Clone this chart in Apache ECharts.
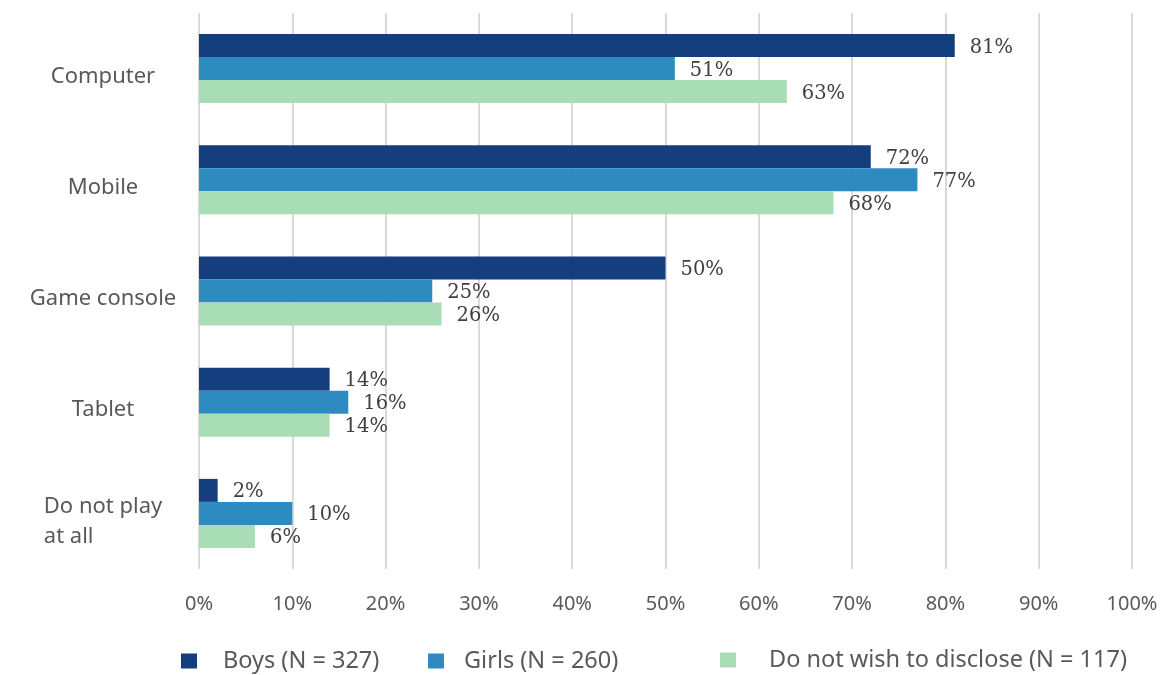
<!DOCTYPE html>
<html>
<head>
<meta charset="utf-8">
<script src="https://cdn.jsdelivr.net/npm/echarts@6/dist/echarts.min.js"></script>
<style>
html,body{margin:0;padding:0;background:#fff;}
#chart{width:1167px;height:675px;}
</style>
</head>
<body>
<div id="chart"></div>
<script>
const categories = ['Computer', 'Mobile', 'Game console', 'Tablet', 'Do not play at all'];
const seriesNames = ['Boys (N = 327)', 'Girls (N = 260)', 'Do not wish to disclose (N = 117)'];
const boys = [81, 72, 50, 14, 2];
const girls = [51, 77, 25, 16, 10];
const disclose = [63, 68, 26, 14, 6];
const xTicks = [0, 10, 20, 30, 40, 50, 60, 70, 80, 90, 100];

const colors = ['#153E7F', '#2E8BC0', '#A9DDB6'];
const seriesData = [boys, girls, disclose];

const chart = echarts.init(document.getElementById('chart'));

const labelStyle = {
  show: true,
  position: 'right',
  distance: 15,
  offset: [0, 2],
  fontFamily: 'DejaVu Serif',
  fontSize: 19.5,
  color: '#404040',
  formatter: p => p.value + '%'
};

const legendPos = [
  {left: 181, top: 649, pad: 21},
  {left: 428, top: 649, pad: 15},
  {left: 720, top: 648, pad: 28}
];

function catLabel(v) {
  const lines = v === 'Do not play at all' ? ['Do not play', 'at all'] : [v];
  return '{s| }\n' + lines.map(l => '{t|' + l + '}').join('\n');
}

const option = {
  animation: false,
  backgroundColor: '#ffffff',
  grid: {left: 199, right: 35, top: 13, bottom: 106, containLabel: false},
  xAxis: {
    type: 'value',
    min: xTicks[0],
    max: xTicks[xTicks.length - 1],
    interval: 10,
    axisLine: {show: false},
    axisTick: {show: false},
    splitLine: {show: true, lineStyle: {color: '#D9D9D9', width: 2}},
    axisLabel: {
      formatter: v => v + '%',
      fontFamily: 'Noto Sans',
      fontSize: 20,
      color: '#595959',
      margin: 25
    }
  },
  yAxis: {
    type: 'category',
    data: categories,
    inverse: true,
    axisLine: {show: false},
    axisTick: {show: false},
    splitLine: {show: false},
    axisLabel: {
      align: 'center',
      margin: 96,
      formatter: catLabel,
      rich: {
        s: {fontSize: 8, lineHeight: 16},
        t: {fontFamily: 'Noto Sans', fontSize: 22, color: '#595959', lineHeight: 30, align: 'left'}
      }
    }
  },
  legend: legendPos.map((p, i) => ({
    data: [seriesNames[i]],
    left: p.left,
    top: p.top,
    padding: 0,
    itemWidth: 16,
    itemHeight: 15,
    icon: 'rect',
    selectedMode: false,
    textStyle: {
      fontFamily: 'Noto Sans',
      fontSize: 23.5,
      color: '#595959',
      padding: [0, 0, 0, p.pad]
    }
  })),
  series: seriesNames.map((name, i) => ({
    name: name,
    type: 'bar',
    data: seriesData[i],
    barWidth: 23,
    barGap: '0%',
    itemStyle: {color: colors[i]},
    label: labelStyle
  }))
};

chart.setOption(option);
</script>
</body>
</html>
